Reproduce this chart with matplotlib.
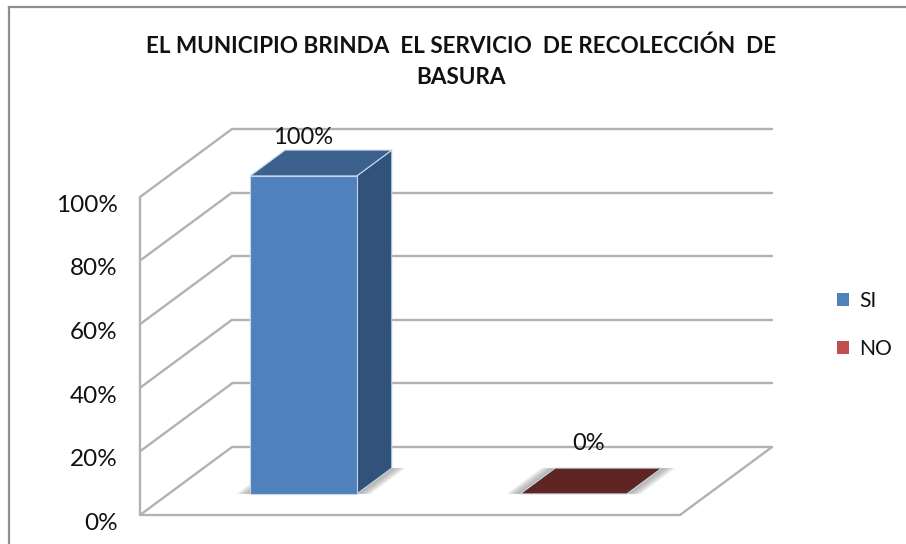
import matplotlib
matplotlib.use('Agg')
import matplotlib.pyplot as plt
from matplotlib.lines import Line2D
from matplotlib.patches import Patch, Polygon
from matplotlib.transforms import ScaledTranslation

plt.rcParams['font.family'] = ['Lato', 'DejaVu Sans']

#### Data
title = 'EL MUNICIPIO BRINDA  EL SERVICIO  DE RECOLECCIÓN  DE\nBASURA'
categories = ['SI', 'NO']
values = [100, 0]
value_labels = ['100%', '0%']
y_ticks = [0, 20, 40, 60, 80, 100]
y_tick_labels = ['0%', '20%', '40%', '60%', '80%', '100%']

#### Style
W, H = 906, 544
front_colors = ['#4f81bd', '#c0504d']
side_colors = ['#31527a', '#632523']
top_colors = ['#3c618f', '#5e2522']
grid_color = '#b2b2b2'
# pixel sizes of the oblique depth axis
depth_px = (92, 68)
bar_width = 0.395
bar_depth = (0.31, 0.69)
label_offsets = [(0, 38), (15, 50)]

fig = plt.figure(figsize=(W / 100, H / 100), dpi=100)
ax = fig.add_axes([140 / W, (H - 515) / H, 540 / W, 318 / H])
ax.set_xlim(0, len(categories))
ax.set_ylim(0, 100)
for s in ax.spines.values():
    s.set_visible(False)
ax.set_xticks([])
ax.set_yticks(y_ticks)
ax.set_yticklabels(y_tick_labels, fontsize=17.5, color='#111111')
ax.tick_params(axis='y', length=0, pad=16)
shift = ScaledTranslation(0, -4.5 / 72, fig.dpi_scale_trans)
for lab in ax.get_yticklabels():
    lab.set_transform(lab.get_transform() + shift)

# depth axis in data units
dx_unit = depth_px[0] / (540 / len(categories))
dy_unit = depth_px[1] / (318 / 100)


def proj(x, v, d):
    return (x + d * dx_unit, v + d * dy_unit)


def grid_line(p, q):
    ax.plot([p[0], q[0]], [p[1], q[1]], color=grid_color, lw=1.7, clip_on=False,
            solid_capstyle='round', zorder=1)


#### Walls and floor
n = len(categories)
for t in y_ticks:
    grid_line(proj(0, t, 0), proj(0, t, 1))
    grid_line(proj(0, t, 1), proj(n, t, 1))
grid_line(proj(0, 0, 0), proj(0, 100, 0))
grid_line(proj(0, 0, 0), proj(n, 0, 0))
grid_line(proj(n, 0, 0), proj(n, 0, 1))

#### Bars
edge = '#c9d6e6'
for i, v in enumerate(values):
    x0 = i + 0.5 - bar_width / 2
    x1 = i + 0.5 + bar_width / 2
    d0, d1 = bar_depth
    # soft shadow on the floor
    for grow in [0.05, 0.04, 0.03, 0.02, 0.01]:
        ax.add_patch(Polygon([proj(x0 - grow, 0, d0), proj(x1 + grow, 0, d0),
                              proj(x1 + grow, 0, d1), proj(x0 - grow, 0, d1)],
                             closed=True, fc='#808080', ec='none', alpha=0.16,
                             clip_on=False, zorder=2))
    if v > 0:
        ax.add_patch(Polygon([proj(x1, 0, d0), proj(x1, 0, d1), proj(x1, v, d1), proj(x1, v, d0)],
                             closed=True, fc=side_colors[i], ec=edge, lw=0.8, clip_on=False, zorder=3))
        ax.add_patch(Polygon([proj(x0, 0, d0), proj(x1, 0, d0), proj(x1, v, d0), proj(x0, v, d0)],
                             closed=True, fc=front_colors[i], ec=edge, lw=0.8, clip_on=False, zorder=4))
    ax.add_patch(Polygon([proj(x0, v, d0), proj(x1, v, d0), proj(x1, v, d1), proj(x0, v, d1)],
                         closed=True, fc=top_colors[i], ec=edge, lw=0.8, clip_on=False, zorder=5))
    off = label_offsets[i]
    ax.annotate(value_labels[i], proj(i + 0.5, v, d0), xytext=(off[0] * 0.72, off[1] * 0.72),
                textcoords='offset points', ha='center', va='center', fontsize=17, color='#111111',
                annotation_clip=False, zorder=6)

#### Title, legend, chart border
fig.text(461 / W, 1 - 62 / H, title, ha='center', va='center', fontsize=16.2, fontweight='bold',
         color='#111111', linespacing=1.6)
handles = [Patch(fc=c, ec='none', label=l) for c, l in zip(front_colors, categories)]
fig.legend(handles=handles, loc='center left', bbox_to_anchor=(818 / W, 1 - 325 / H), frameon=False,
           fontsize=15.2, handlelength=0.57, handleheight=0.57, handletextpad=0.47, labelspacing=1.3,
           labelcolor='#111111')
fig.add_artist(Line2D([8.5 / W, 8.5 / W], [0, 1 - 7 / H], color='#8f8f8f', lw=1.6))
fig.add_artist(Line2D([8.5 / W, 1], [1 - 7 / H, 1 - 7 / H], color='#8f8f8f', lw=1.6))

fig.savefig('out.png', dpi=100)
